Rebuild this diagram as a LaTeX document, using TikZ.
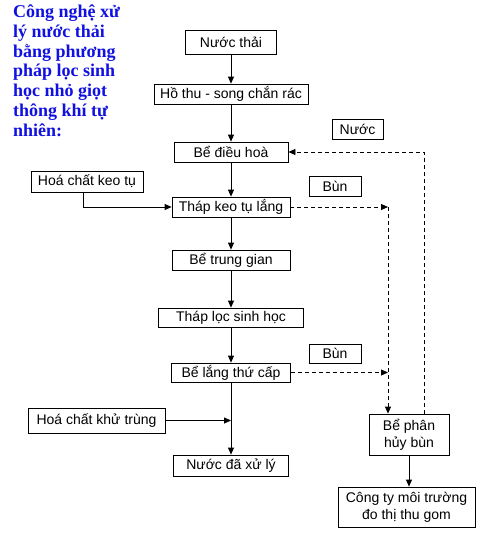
\documentclass[tikz,border=0pt]{standalone}
\usepackage{fontspec}
\setmainfont{Liberation Sans}
\newfontfamily\titlefont{Liberation Serif}
\usetikzlibrary{arrows.meta}
\definecolor{titleblue}{RGB}{16,16,224}

\begin{document}
\begin{tikzpicture}[x=1pt,y=-1pt,
	box/.style={draw,line width=0.8pt,inner sep=0pt,align=center,font=\fontsize{14}{17}\selectfont},
	flow/.style={line width=0.8pt,-{Triangle[length=7pt,width=6pt]}},
	sludge/.style={flow,dash pattern=on 4pt off 3pt}]
	%%%%% START %%%%%
	\useasboundingbox (0,0) rectangle (504,539);

	\node[anchor=north west,inner sep=0pt,align=left,text=titleblue,font=\titlefont\bfseries\fontsize{18}{19.7}\selectfont] (title) at (13,5) {Công nghệ xử\\lý nước thải\\bằng phương\\pháp lọc sinh\\học nhỏ giọt\\thông khí tự\\nhiên:};

	% main line
	\node[box,minimum width=91pt,minimum height=24pt] (nuocthai) at (231,42) {Nước thải};
	\node[box,minimum width=154pt,minimum height=20pt] (hothu) at (231,94) {Hồ thu - song chắn rác};
	\node[box,minimum width=114pt,minimum height=20pt] (dieuhoa) at (231,152) {Bể điều hoà};
	\node[box,minimum width=118pt,minimum height=20pt] (thapkeo) at (231,207) {Tháp keo tụ lắng};
	\node[box,minimum width=118pt,minimum height=20pt] (trunggian) at (231,260) {Bể trung gian};
	\node[box,minimum width=145pt,minimum height=19pt] (thaploc) at (231,317.5) {Tháp lọc sinh học};
	\node[box,minimum width=119pt,minimum height=19pt] (langthucap) at (231,372.5) {Bể lắng thứ cấp};
	\node[box,minimum width=115pt,minimum height=21pt] (daxuly) at (231,465.5) {Nước đã xử lý};

	% chemicals
	\node[box,minimum width=112pt,minimum height=21pt] (keotu) at (87,181.5) {Hoá chất keo tụ};
	\node[box,minimum width=137pt,minimum height=25pt] (khutrung) at (96.5,420.5) {Hoá chất khử trùng};

	% sludge side
	\node[box,minimum width=51pt,minimum height=20pt] (nuoc) at (357.5,129) {Nước};
	\node[box,minimum width=52pt,minimum height=20pt] (bun1) at (335,186) {Bùn};
	\node[box,minimum width=52pt,minimum height=19pt] (bun2) at (335,353.5) {Bùn};
	\node[box,minimum width=80pt,minimum height=41pt] (phanhuy) at (409,434.5) {Bể phân\\hủy bùn};
	\node[box,minimum width=137pt,minimum height=40pt] (congty) at (406.5,507) {Công ty môi trường\\đo thị thu gom};

	\coordinate (k1) at (388,207);
	\coordinate (k2) at (388,372.5);
	\coordinate (ret) at (424,414);

	\draw[flow] (nuocthai) -- (hothu);
	\draw[flow] (hothu) -- (dieuhoa);
	\draw[flow] (dieuhoa) -- (thapkeo);
	\draw[flow] (thapkeo) -- (trunggian);
	\draw[flow] (trunggian) -- (thaploc);
	\draw[flow] (thaploc) -- (langthucap);
	\draw[flow] (langthucap) -- (daxuly);

	\draw[flow] (keotu.south -| 83,0) |- (thapkeo);
	\draw[flow] (khutrung) -- (khutrung -| langthucap);

	\draw[sludge] (thapkeo) -- (k1);
	\draw[sludge] (langthucap) -- (k2);
	\draw[sludge] (k1) -- (k1 |- phanhuy.north);
	\draw[sludge] (ret) |- (dieuhoa);
	\draw[flow] (phanhuy) -- (phanhuy |- congty.north);
	%%%%% END %%%%%
\end{tikzpicture}
\end{document}
